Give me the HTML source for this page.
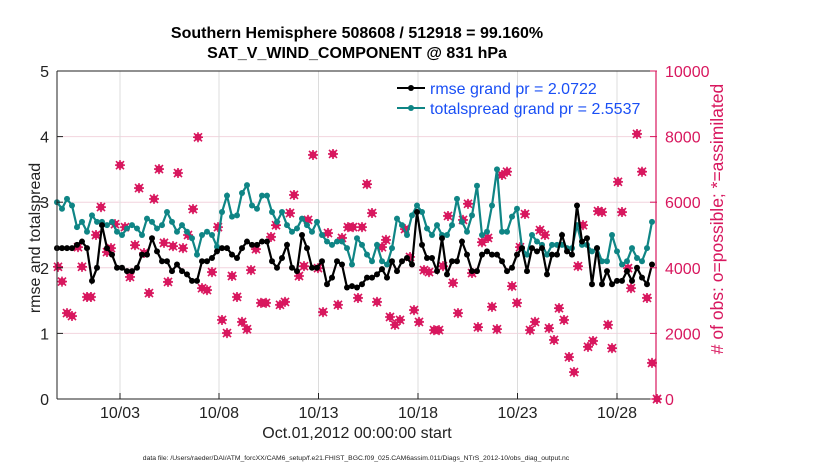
<!DOCTYPE html>
<html><head><meta charset="utf-8"><style>
body{margin:0;background:#fff;width:830px;height:470px;overflow:hidden;font-family:"Liberation Sans",Arial,sans-serif}
svg text{font-family:"Liberation Sans",Arial,sans-serif}
</style></head><body>
<svg id="chart" width="830" height="470" xmlns="http://www.w3.org/2000/svg"></svg>
<script>
const rmse=[2.3,2.3,2.3,2.3,2.35,2.4,2.3,1.8,2.0,2.65,2.3,2.2,2.0,2.0,1.95,1.95,2.0,2.2,2.2,2.45,2.25,2.1,2.1,1.95,2.05,1.95,1.9,1.8,1.8,2.1,2.1,
2.15,2.25,2.3,2.3,2.2,2.15,2.3,2.4,2.35,2.35,2.4,2.4,2.1,2.0,2.15,2.35,2.0,1.95,2.5,2.3,2.0,2.0,2.1,1.75,1.85,2.1,2.05,1.7,1.72,1.7,
1.75,1.85,1.85,1.9,1.98,1.85,2.1,1.95,2.1,2.15,2.05,2.85,2.35,2.15,2.15,1.95,2.45,1.9,2.1,2.1,2.4,2.2,1.95,1.95,2.2,2.25,2.2,2.2,2.1,1.95,
2.0,2.2,2.3,1.95,2.3,2.25,2.3,1.9,2.2,2.2,2.5,2.25,2.2,2.95,2.4,2.45,1.75,2.3,1.75,1.95,1.75,1.8,1.8,1.95,1.8,2.0,1.85,1.75,2.05];
const spread=[3.0,2.9,3.05,2.95,2.62,2.7,2.55,2.8,2.7,2.7,2.65,2.7,2.55,2.5,2.6,2.65,2.6,2.5,2.75,2.7,2.6,2.65,2.85,2.7,2.55,2.65,2.55,2.45,2.2,2.5,2.55,
2.5,2.32,2.85,3.1,2.78,2.8,3.14,3.26,2.95,2.9,3.1,3.1,2.85,2.7,2.85,2.65,2.55,2.6,2.75,2.65,2.55,2.7,2.5,2.4,2.35,2.4,2.4,2.3,2.05,2.45,
2.35,2.2,2.1,2.35,2.1,2.05,2.3,2.75,2.65,2.5,2.8,2.95,2.85,2.6,2.5,2.65,2.5,2.5,2.65,3.05,2.7,2.55,2.8,3.25,2.5,2.55,2.95,3.5,2.55,2.55,
2.78,2.9,2.3,2.2,2.5,2.4,2.35,2.2,2.35,2.35,2.35,2.3,2.3,2.65,2.35,2.35,2.25,2.3,2.1,2.1,2.5,2.25,2.05,2.1,2.3,2.15,2.1,2.3,2.7];
const obsIdx=[0.2,1,2,3,4.2,5,6,6.8,7.8,8.8,10,10.8,11.6,12.6,13.6,14.6,15.6,16.4,17.4,18.4,19.4,20.4,21.4,22.2,23.2,24.2,25.2,26.2,27.2,28.2,29,30,
31,32.2,33,34,35,36,37,38,38.8,39.8,40.8,41.8,42.8,43.8,44.6,45.6,46.6,47.4,48.4,49.4,50.2,51.2,52.2,53.2,54.2,55.2,56.2,57,58.2,59.2,60.2,
61,62,63,64,65,65.8,66.6,67.6,68.6,69.6,70.6,71.4,72.4,73.4,74.4,75.4,76.4,77.2,78.2,79.2,80.2,81.2,82.2,83,84.2,85,86.2,87,88,89,90,
91,92,92.6,93.6,94.6,95.6,96.6,97.6,98.4,99.4,100.4,101.4,102.4,103.4,104.2,105.2,106.2,107.2,108.2,109,110.2,111,112.2,113,114.2,114.8,116,117,118,119,120];
const obsCount=[4030,3580,2620,2530,4630,4030,3110,3110,5000,5850,4480,4600,5330,7130,5240,3720,4690,6430,4450,3230,6100,7010,4760,3570,4660,6890,4600,5000,5790,7980,3380,3320,
3870,5240,2410,2010,3750,3110,2350,2130,3930,4570,2930,2930,4940,5300,2870,2960,5670,6220,3750,4050,5460,7440,3990,2650,5060,7470,2870,4910,5240,5240,3080,
5240,6550,5670,2960,4630,4850,2500,2260,2410,5180,4330,2710,2350,3930,3870,2100,2100,4050,5580,3540,2620,5460,5950,3840,2190,4780,4910,2810,2130,6830,6930,
3440,2930,4630,5640,2100,2350,5150,5000,2160,1800,2770,2410,1280,820,4050,5300,1590,1770,5730,5700,2260,1550,6620,5700,3990,3380,8080,6930,3080,1100,0];
const tickLabels=["10/03","10/08","10/13","10/18","10/23","10/28"];
const tickIdx=[12.6,32.4,52.3,72.2,92.1,112];
const leftTicks=[0,1,2,3,4,5];
const rightTicks=[0,2000,4000,6000,8000,10000];

const NS="http://www.w3.org/2000/svg";
const svg=document.getElementById('chart');
const X0=57,X1=657,Y0=399,Y1=71;
const xS=i=>X0+i*(X1-X0)/120;
const yL=v=>Y0-(v/5)*(Y0-Y1);
const yR=n=>Y0-(n/10000)*(Y0-Y1);
function el(t,a,p){const e=document.createElementNS(NS,t);for(const k in a)e.setAttribute(k,a[k]);(p||svg).appendChild(e);return e;}
function txt(s,a,p){const e=el('text',a,p);e.textContent=s;return e;}

rightTicks.forEach(n=>{const g=el('line',{x1:X0,x2:X1,y1:yR(n),y2:yR(n),stroke:'#f2d4de','stroke-width':1});

});
tickIdx.forEach(t=>{const g=el('line',{x1:xS(t),x2:xS(t),y1:Y1,y2:Y0,stroke:'#dcdcdc','stroke-width':1});

});

const obsG=el('g',{});


obsIdx.forEach((t,k)=>{const cx=xS(t),cy=yR(obsCount[k]);
const m=el('g',{},obsG);


el('circle',{cx:cx,cy:cy,r:3.6,fill:'#d8175e'},m);
el('path',{d:`M${cx-5} ${cy}H${cx+5}M${cx} ${cy-5}V${cy+5}M${cx-4} ${cy-4}L${cx+4} ${cy+4}M${cx-4} ${cy+4}L${cx+4} ${cy-4}`,stroke:'#d8175e','stroke-width':1.6},m);
});

function series(arr,color,name){
const g=el('g',{});


el('polyline',{points:arr.map((v,i)=>xS(i)+','+yL(v)).join(' '),fill:'none',stroke:color,'stroke-width':2.2},g);
arr.forEach((v,i)=>{const c=el('circle',{cx:xS(i),cy:yL(v),r:3,fill:color},g);

});
}
series(spread,'#0f8585','totalspread-line');
series(rmse,'#000000','rmse-line');

const ax=el('g',{});


el('line',{x1:X0,x2:X1,y1:Y1,y2:Y1,stroke:'#222','stroke-width':1},ax);
el('line',{x1:X0,x2:X1,y1:Y0,y2:Y0,stroke:'#222','stroke-width':1},ax);
el('line',{x1:X0,x2:X0,y1:Y1,y2:Y0,stroke:'#222','stroke-width':1},ax);
el('line',{x1:X1-1,x2:X1-1,y1:Y1,y2:Y0,stroke:'#d8175e','stroke-width':1.2},ax);
leftTicks.forEach(v=>{el('line',{x1:X0,x2:X0+6,y1:yL(v),y2:yL(v),stroke:'#222'},ax);
const t=txt(String(v),{x:X0-8,y:yL(v)+6,'text-anchor':'end','font-size':16,fill:'#222'},ax);

});
rightTicks.forEach(n=>{el('line',{x1:X1-7,x2:X1,y1:yR(n),y2:yR(n),stroke:'#d8175e'},ax);
const t=txt(String(n),{x:X1+8,y:yR(n)+6,'font-size':16,fill:'#d8175e'},ax);

});
tickIdx.forEach((t,k)=>{el('line',{x1:xS(t),x2:xS(t),y1:Y0,y2:Y0-6,stroke:'#222'},ax);
const l=txt(tickLabels[k],{x:xS(t),y:Y0+19,'text-anchor':'middle','font-size':16,fill:'#222'},ax);

});
</script>
<svg style="position:absolute;left:0;top:0" width="830" height="470" xmlns="http://www.w3.org/2000/svg">
<text x="357" y="38" text-anchor="middle" font-size="16" font-weight="bold" fill="#000">Southern Hemisphere 508608 / 512918 = 99.160%</text>
<text x="357" y="58" text-anchor="middle" font-size="16" font-weight="bold" fill="#000">SAT_V_WIND_COMPONENT @ 831 hPa</text>
<text transform="translate(40,238) rotate(-90)" text-anchor="middle" font-size="16" fill="#222">rmse and totalspread</text>
<text transform="translate(723,219) rotate(-90)" text-anchor="middle" font-size="17.5" fill="#d8175e"># of obs: o=possible; *=assimilated</text>
<text x="357" y="438" text-anchor="middle" font-size="16" fill="#222">Oct.01,2012 00:00:00 start</text>
<text x="356" y="460" text-anchor="middle" font-size="6.8" fill="#222">data file: /Users/raeder/DAI/ATM_forcXX/CAM6_setup/f.e21.FHIST_BGC.f09_025.CAM6assim.011/Diags_NTrS_2012-10/obs_diag_output.nc</text>
<g>
<line x1="397" x2="425" y1="88" y2="88" stroke="#000" stroke-width="2"/><circle cx="411" cy="88" r="3" fill="#000"/>
<text x="430" y="94" font-size="16" fill="#1a4ff5">rmse grand pr = 2.0722</text>
<line x1="397" x2="425" y1="108" y2="108" stroke="#0f8585" stroke-width="2"/><circle cx="411" cy="108" r="3" fill="#0f8585"/>
<text x="430" y="114" font-size="16" fill="#1a4ff5">totalspread grand pr = 2.5537</text>
</g>
</svg>
</body></html>
